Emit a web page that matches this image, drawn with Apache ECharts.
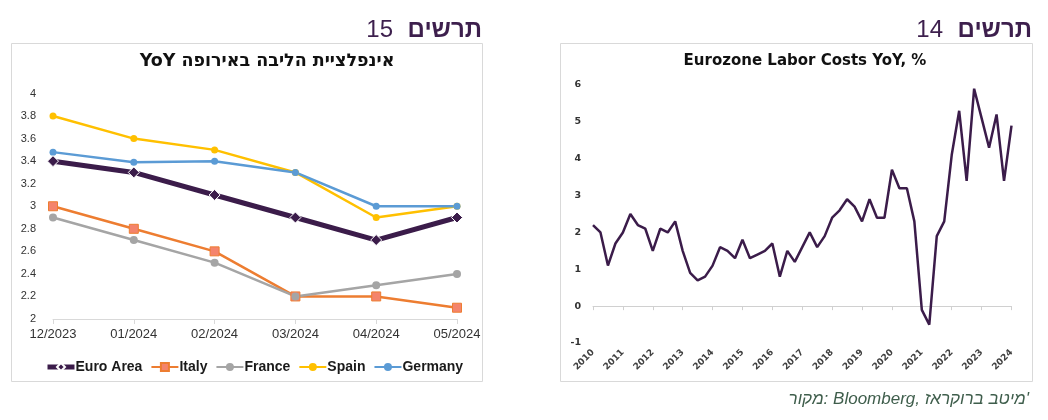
<!DOCTYPE html>
<html><head><meta charset="utf-8">
<script src="https://cdn.jsdelivr.net/npm/echarts@6/dist/echarts.min.js"></script>
<style>html,body{margin:0;padding:0;background:#fff}#c{width:1048px;height:420px}</style>
</head><body><div id="c"></div>
<script>
// ---- Left chart data (core inflation in Europe, YoY %) ----
const months = ['12/2023','01/2024','02/2024','03/2024','04/2024','05/2024'];
const euroArea = [3.4, 3.3, 3.1, 2.9, 2.7, 2.9];
const italy    = [3.0, 2.8, 2.6, 2.2, 2.2, 2.1];
const france   = [2.9, 2.7, 2.5, 2.2, 2.3, 2.4];
const spain    = [3.8, 3.6, 3.5, 3.3, 2.9, 3.0];
const germany  = [3.48, 3.39, 3.4, 3.3, 3.0, 3.0];

// ---- Right chart data (Eurozone labor costs YoY %, quarterly) ----
const laborYears = ['2010','2011','2012','2013','2014','2015','2016','2017','2018','2019','2020','2021','2022','2023','2024'];
const laborQuarters = [];
laborYears.forEach(y => { (y === '2024' ? ['Q1'] : ['Q1','Q2','Q3','Q4']).forEach(q => laborQuarters.push(y + q)); });
const laborCosts = [
  2.2, 2.0, 1.1, 1.7,
  2.0, 2.5, 2.2, 2.1,
  1.5, 2.1, 2.0, 2.3,
  1.5, 0.9, 0.7, 0.8,
  1.1, 1.6, 1.5, 1.3,
  1.8, 1.3, 1.4, 1.5,
  1.7, 0.8, 1.5, 1.2,
  1.6, 2.0, 1.6, 1.9,
  2.4, 2.6, 2.9, 2.7,
  2.3, 2.9, 2.4, 2.4,
  3.7, 3.2, 3.2, 2.3,
  -0.1, -0.5, 1.9, 2.3,
  4.1, 5.3, 3.4, 5.9,
  5.1, 4.3, 5.2, 3.4,
  4.9
];

const HEB = '"Liberation Sans", "DejaVu Sans", Arial, sans-serif';
const TAH = '"DejaVu Sans", "Liberation Sans", sans-serif';
const PURPLE = '#3b1c4a';
const chart = echarts.init(document.getElementById('c'), null, {renderer:'canvas'});

chart.setOption({
  animation: false,
  backgroundColor: '#ffffff',
  graphic: [
    {type:'rect', shape:{x:11.5, y:43.5, width:471, height:338}, style:{fill:'none', stroke:'#d9d9d9', lineWidth:1}, z:-1},
    {type:'rect', shape:{x:560.5, y:43.5, width:472, height:338}, style:{fill:'none', stroke:'#d9d9d9', lineWidth:1}, z:-1},
    {type:'text', x:482, y:30, style:{text:'תרשים', font:'bold 24px ' + HEB, fill:'#3d1f4d', textAlign:'right', textVerticalAlign:'middle'}},
    {type:'text', x:393, y:30, style:{text:'15', font:'24px ' + HEB, fill:'#3d1f4d', textAlign:'right', textVerticalAlign:'middle'}},
    {type:'text', x:1032, y:30, style:{text:'תרשים', font:'bold 24px ' + HEB, fill:'#3d1f4d', textAlign:'right', textVerticalAlign:'middle'}},
    {type:'text', x:943, y:30, style:{text:'14', font:'24px ' + HEB, fill:'#3d1f4d', textAlign:'right', textVerticalAlign:'middle'}},
    {type:'text', x:267, y:61, style:{text:'YoY אינפלציית הליבה באירופה', font:'bold 17.5px ' + TAH, fill:'#111', textAlign:'center', textVerticalAlign:'middle'}},
    {type:'text', x:805, y:61, style:{text:'Eurozone Labor Costs YoY, %', font:'bold 15px ' + TAH, fill:'#111', textAlign:'center', textVerticalAlign:'middle'}},
    {type:'text', x:1029, y:399, style:{text:"מקור: Bloomberg, מיטב ברוקראז'", font:'italic 17px ' + HEB, fill:'#3f5e4c', textAlign:'right', textVerticalAlign:'middle'}}
  ],
  legend: {
    data: [
      {name:'Euro Area', lineStyle:{width:5}},
      {name:'Italy'}, {name:'France'}, {name:'Spain'}, {name:'Germany'}
    ],
    left: 40, top: 355,
    itemWidth: 27, itemHeight: 10, itemGap: 8,
    textStyle: {fontFamily: HEB, fontWeight:'bold', fontSize:14, color:'#1a1a1a', padding:[0,0,0,-4]}
  },
  grid: [
    {left:53, right:591, top:93.5, bottom:101},
    {left:593, right:36.5, top:85, bottom:77}
  ],
  xAxis: [
    {gridIndex:0, type:'category', data:months, boundaryGap:false,
     axisLine:{lineStyle:{color:'#d9d9d9'}}, axisTick:{show:true, length:5, lineStyle:{color:'#d9d9d9'}},
     axisLabel:{fontFamily:HEB, fontSize:13, color:'#333', margin:9}},
    {gridIndex:1, type:'category', data:laborQuarters, boundaryGap:false, position:'bottom',
     axisLine:{onZero:true, lineStyle:{color:'#d0d0d0'}},
     axisTick:{show:true, interval:3, length:4, lineStyle:{color:'#d0d0d0'}},
     axisLabel:{show:false}},
    {gridIndex:1, type:'category', data:laborQuarters, boundaryGap:false, position:'bottom',
     axisLine:{show:false, onZero:false}, axisTick:{show:false},
     axisLabel:{interval:3, rotate:45, margin:8, fontFamily:TAH, fontWeight:'bold', fontSize:9, color:'#404040',
       formatter: v => v.slice(0,4)}}
  ],
  yAxis: [
    {gridIndex:0, type:'value', min:2, max:4, interval:0.2,
     axisLine:{show:false}, axisTick:{show:false}, splitLine:{show:false},
     axisLabel:{fontFamily:HEB, fontSize:11, color:'#333', margin:17}},
    {gridIndex:1, type:'value', min:-1, max:6, interval:1,
     axisLine:{show:false}, axisTick:{show:false}, splitLine:{show:false},
     axisLabel:{fontFamily:TAH, fontWeight:'bold', fontSize:9.5, color:'#333', margin:12}}
  ],
  series: [
    {name:'Italy', type:'line', xAxisIndex:0, yAxisIndex:0, data:italy, color:'#ED7D31',
     lineStyle:{width:2.5, color:'#ED7D31'}, symbol:'rect', symbolSize:9,
     itemStyle:{color:'#F4846C', borderColor:'#ED7D31', borderWidth:1}},
    {name:'France', type:'line', xAxisIndex:0, yAxisIndex:0, data:france, color:'#A5A5A5',
     lineStyle:{width:2.5, color:'#A5A5A5'}, symbol:'circle', symbolSize:8,
     itemStyle:{color:'#A5A5A5'}},
    {name:'Spain', type:'line', xAxisIndex:0, yAxisIndex:0, data:spain, color:'#FFC000',
     lineStyle:{width:2.5, color:'#FFC000'}, symbol:'circle', symbolSize:7,
     itemStyle:{color:'#FFC000'}},
    {name:'Germany', type:'line', xAxisIndex:0, yAxisIndex:0, data:germany, color:'#5B9BD5',
     lineStyle:{width:2.5, color:'#5B9BD5'}, symbol:'circle', symbolSize:7,
     itemStyle:{color:'#5B9BD5'}},
    {name:'Euro Area', type:'line', xAxisIndex:0, yAxisIndex:0, data:euroArea, color:PURPLE, z:5,
     lineStyle:{width:5, color:PURPLE}, symbol:'diamond', symbolSize:11,
     itemStyle:{color:PURPLE, borderColor:'#ffffff', borderWidth:1}},
    {name:'Labor Costs', type:'line', xAxisIndex:1, yAxisIndex:1, data:laborCosts,
     lineStyle:{width:2.5, color:PURPLE}, symbol:'none', itemStyle:{color:PURPLE}}
  ]
});
</script>
</body></html>
